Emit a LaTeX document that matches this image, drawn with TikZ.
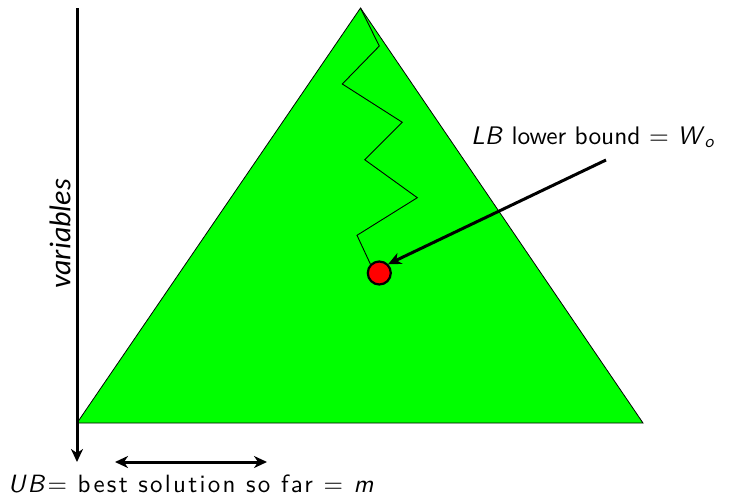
\documentclass[tikz,border=0pt]{standalone}
\usepackage{fontspec}
\newfontfamily\varfont{Carlito}
\newfontfamily\lmsten{lmsans10-regular.otf}[ItalicFont=lmsans10-oblique.otf]
\newfontfamily\lmstenwide{lmsans10-regular.otf}[ItalicFont=lmsans10-oblique.otf,LetterSpace=9]
\usetikzlibrary{arrows.meta}
\tikzset{
  lbl/.style={font=\fontsize{25.4}{30}\selectfont\lmsten, inner sep=0pt},
  lblwide/.style={font=\fontsize{25}{30}\selectfont\lmstenwide, inner sep=0pt},
  tip/.tip={Stealth[length=13pt,width=12pt,inset=4pt]},
  thickarrow/.style={line width=3pt,-tip},
}
\begin{document}
\begin{tikzpicture}[x=1pt,y=-1pt]
\useasboundingbox (0,0) rectangle (744,498);
% triangle
\coordinate (apex) at (360.5,8);
\coordinate (bl) at (77,423);
\coordinate (br) at (643,423);
\fill[green] (apex) -- (bl) -- (br) -- cycle;
\draw[line width=0.8pt] (apex) -- (bl) -- (br) -- cycle;
% axis
\coordinate (axtop) at (77,8);
\coordinate (axbot) at (77,462);
\draw[thickarrow] (axtop) -- (axbot);
\node[rotate=90, font=\fontsize{30}{36}\selectfont\varfont\itshape, inner sep=0pt] (var) at (60,234) {variables};
% zigzag
\node[circle, fill=red, draw=black, line width=2.2pt, minimum size=23pt, inner sep=0pt] (dot) at (379.3,273) {};
\draw[line width=0.9pt] (apex) -- (379.3,46) -- (342.3,84) -- (402.3,122.3) -- (364.7,159.7) -- (417.3,197.7) -- (357,235.3) -- (dot.north west);
% LB label
\node[lbl, anchor=base west] (lb) at (471,144) {\textit{LB} lower bound = \textit{W}\textsubscript{\textit{o}}};
\coordinate (lbstart) at (606,160);
\draw[thickarrow] (lbstart) -- (dot.north east);
% bottom
\coordinate (ha) at (115,462);
\coordinate (hb) at (267,462);
\draw[line width=3pt,tip-tip] (ha) -- (hb);
\node[lblwide, anchor=base west] (ub) at (8,492) {\textit{UB}= best solution so far = \textit{m}};
\end{tikzpicture}
\end{document}
